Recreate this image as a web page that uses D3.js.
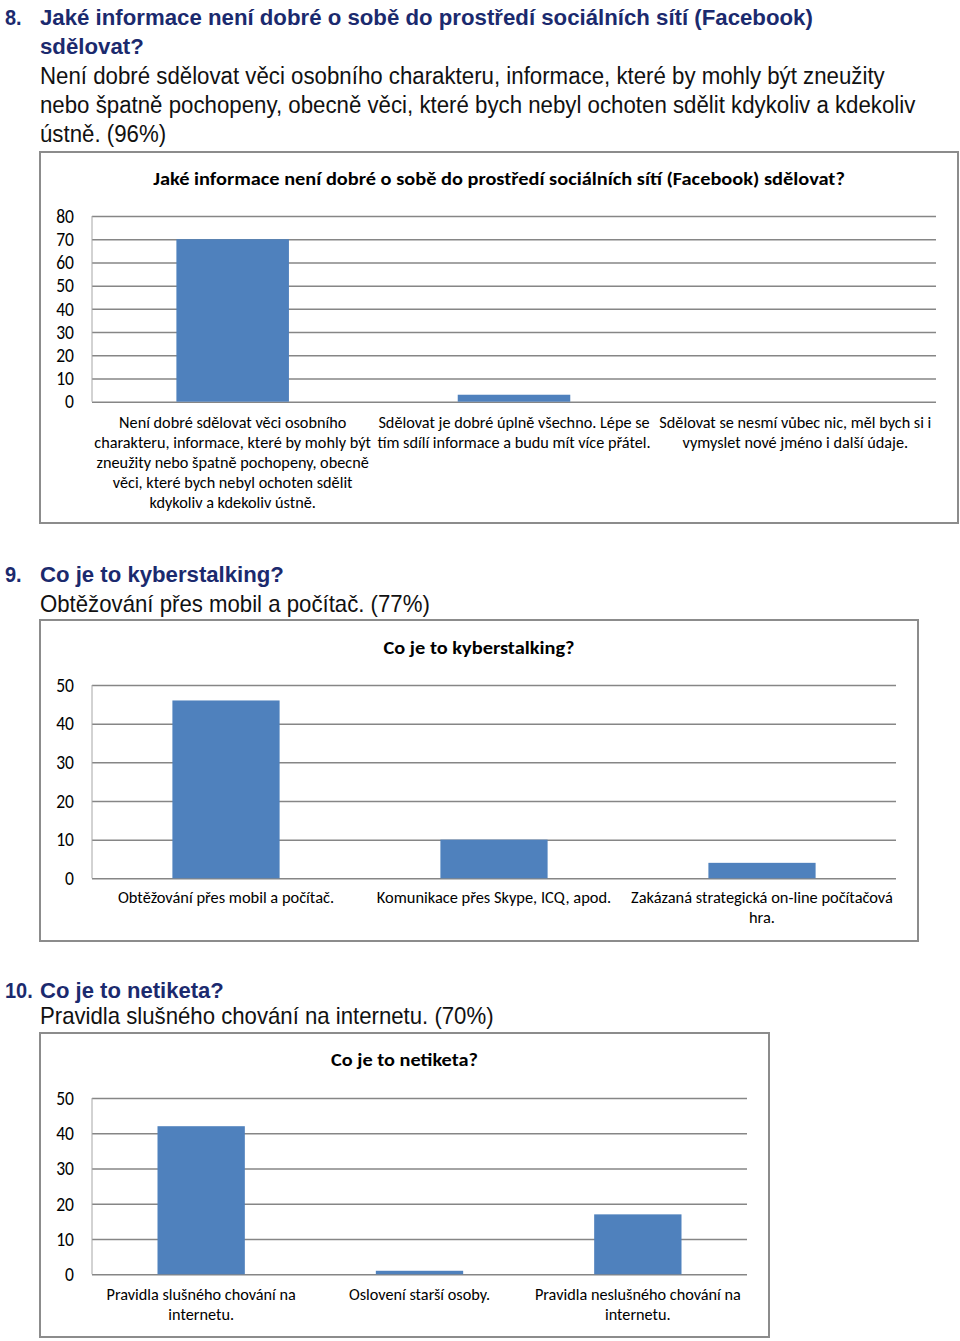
<!DOCTYPE html>
<html><head><meta charset="utf-8">
<script src="https://cdn.jsdelivr.net/npm/d3@7"></script>
<style>body{margin:0;background:#fff}svg{display:block}</style>
</head><body>
<svg id="c" width="960" height="1341"></svg>
<script>
// ---------- DATA ----------
const q8Number = "8.";
const q8Question = ["Jaké informace není dobré o sobě do prostředí sociálních sítí (Facebook)", "sdělovat?"];
const q8Answer = ["Není dobré sdělovat věci osobního charakteru, informace, které by mohly být zneužity",
  "nebo špatně pochopeny, obecně věci, které bych nebyl ochoten sdělit kdykoliv a kdekoliv",
  "ústně. (96%)"];
const chart1Title = "Jaké informace není dobré o sobě do prostředí sociálních sítí (Facebook) sdělovat?";
const chart1Categories = [
  "Není dobré sdělovat věci osobního\ncharakteru, informace, které by mohly být\nzneužity nebo špatně pochopeny, obecně\nvěci, které bych nebyl ochoten sdělit\nkdykoliv a kdekoliv ústně.",
  "Sdělovat je dobré úplně všechno. Lépe se\ntím sdílí informace a budu mít více přátel.",
  "Sdělovat se nesmí vůbec nic, měl bych si i\nvymyslet nové jméno i další údaje."];
const chart1Values = [70, 3, 0];
const chart1Ticks = [0, 10, 20, 30, 40, 50, 60, 70, 80];

const q9Number = "9.";
const q9Question = ["Co je to kyberstalking?"];
const q9Answer = ["Obtěžování přes mobil a počítač. (77%)"];
const chart2Title = "Co je to kyberstalking?";
const chart2Categories = ["Obtěžování přes mobil a počítač.", "Komunikace přes Skype, ICQ, apod.",
  "Zakázaná strategická on-line počítačová\nhra."];
const chart2Values = [46, 10, 4];
const chart2Ticks = [0, 10, 20, 30, 40, 50];

const q10Number = "10.";
const q10Question = ["Co je to netiketa?"];
const q10Answer = ["Pravidla slušného chování na internetu. (70%)"];
const chart3Title = "Co je to netiketa?";
const chart3Categories = ["Pravidla slušného chování na\ninternetu.", "Oslovení starší osoby.",
  "Pravidla neslušného chování na\ninternetu."];
const chart3Values = [42, 1, 17];
const chart3Ticks = [0, 10, 20, 30, 40, 50];

// ---------- RENDER ----------
const svg = d3.select("#c");
const NAVY = "#1b2a6e";
const ARIAL = "'Liberation Sans', Arial, sans-serif";
const CAL = "Carlito, Lato, 'Open Sans', sans-serif";

function fitText(parent, txt, x, y, opts) {
  const g = parent.append("g").attr("transform", `translate(${x},${y})`);
  const t = g.append("text").text(txt)
    .attr("font-family", opts.family).attr("font-size", opts.size)
    .attr("font-weight", opts.weight || "normal").attr("fill", opts.color || "#000")
    .attr("text-anchor", opts.anchor || "start");
  let sx = opts.scale || 1;
  if (opts.width) sx = opts.width / t.node().getComputedTextLength();
  g.attr("transform", `translate(${x},${y}) scale(${sx},1)`);
  return sx;
}

function heading(num, qLines, aLines, qBase, aBase, qWidth, aWidth) {
  fitText(svg, num, 5, qBase[0], {family: ARIAL, size: 21.5, weight: "bold", color: NAVY, scale: 0.93});
  let sxq = null;
  qLines.forEach((l, i) => {
    if (i === 0) sxq = fitText(svg, l, 40, qBase[i], {family: ARIAL, size: 21.5, weight: "bold", color: NAVY, width: qWidth});
    else fitText(svg, l, 40, qBase[i], {family: ARIAL, size: 21.5, weight: "bold", color: NAVY, scale: sxq});
  });
  let sxa = null;
  aLines.forEach((l, i) => {
    if (i === 0) sxa = fitText(svg, l, 40, aBase[i], {family: ARIAL, size: 23, color: "#111", width: aWidth});
    else fitText(svg, l, 40, aBase[i], {family: ARIAL, size: 23, color: "#111", scale: sxa});
  });
}

function barChart(cfg) {
  const g = svg.append("g");
  g.append("rect").attr("x", cfg.frame[0]).attr("y", cfg.frame[1])
    .attr("width", cfg.frame[2] - cfg.frame[0]).attr("height", cfg.frame[3] - cfg.frame[1])
    .attr("fill", "#fff").attr("stroke", "#8c8c8c").attr("stroke-width", 2);

  const x = d3.scaleBand().domain(cfg.categories).range([cfg.left, cfg.right])
    .paddingInner(0.6).paddingOuter(0.3);
  const y = d3.scaleLinear().domain([0, d3.max(cfg.ticks)]).range([cfg.bottom, cfg.top]);

  // gridlines
  const grid = g.append("g").attr("transform", `translate(${cfg.left},0)`)
    .call(d3.axisLeft(y).tickValues(cfg.ticks).tickSize(-(cfg.right - cfg.left)).tickFormat(""));
  grid.select(".domain").remove();
  grid.selectAll("line").attr("stroke", "#868686").attr("stroke-width", 1.5);

  // vertical axis line
  g.append("line").attr("x1", cfg.left).attr("x2", cfg.left)
    .attr("y1", y(d3.max(cfg.ticks))).attr("y2", y(0))
    .attr("stroke", "#a6a6a6").attr("stroke-width", 1);

  // tick labels
  const ax = g.append("g").attr("transform", `translate(${cfg.left},0)`)
    .call(d3.axisLeft(y).tickValues(cfg.ticks).tickSize(0).tickPadding(18).tickFormat(d3.format("d")));
  ax.select(".domain").remove();
  ax.selectAll("text").attr("font-family", CAL).attr("font-size", 19.5).attr("fill", "#000")
    .attr("transform", `scale(${cfg.tickScale},1)`).attr("x", -18 / cfg.tickScale);

  // bars
  g.selectAll("rect.bar").data(cfg.values).join("rect").attr("class", "bar")
    .attr("x", (d, i) => x(cfg.categories[i])).attr("width", x.bandwidth())
    .attr("y", d => y(d)).attr("height", d => y(0) - y(d))
    .attr("fill", "#4f81bd");

  // title
  fitText(g, cfg.title, (cfg.frame[0] + cfg.frame[2]) / 2, cfg.titleY,
    {family: CAL, size: 18.5, weight: "bold", anchor: "middle", width: cfg.titleWidth});

  // category labels
  const probe = g.append("text").attr("font-family", CAL).attr("font-size", cfg.labelSize)
    .text(cfg.refLine);
  const sx = cfg.refWidth / probe.node().getComputedTextLength();
  probe.remove();
  cfg.categories.forEach((c, i) => {
    const cx = x(c) + x.bandwidth() / 2;
    c.split("\n").forEach((line, j) => {
      fitText(g, line, cx, y(0) + cfg.labelOffset + j * 20,
        {family: CAL, size: cfg.labelSize, anchor: "middle", scale: sx, color: "#000"});
    });
  });
}

heading(q8Number, q8Question, q8Answer, [25, 54], [84, 113, 142], 773, 845);
barChart({frame: [40, 152, 958, 523], left: 92, right: 936, top: 216, bottom: 401.7,
  ticks: chart1Ticks, categories: chart1Categories, values: chart1Values,
  title: chart1Title, titleY: 185, titleWidth: 692, tickScale: 0.9,
  labelSize: 16, labelOffset: 26, refLine: "charakteru, informace, které by mohly být", refWidth: 277});

heading(q9Number, q9Question, q9Answer, [582], [612], 244, 390);
barChart({frame: [40, 620, 918, 941], left: 92, right: 896, top: 685, bottom: 878.3,
  ticks: chart2Ticks, categories: chart2Categories, values: chart2Values,
  title: chart2Title, titleY: 654, titleWidth: 191, tickScale: 0.9,
  labelSize: 16, labelOffset: 25, refLine: "Zakázaná strategická on-line počítačová", refWidth: 262});

heading(q10Number, q10Question, q10Answer, [998], [1024], 184, 454);
barChart({frame: [40, 1033, 769, 1337], left: 92, right: 747, top: 1098, bottom: 1274.3,
  ticks: chart3Ticks, categories: chart3Categories, values: chart3Values,
  title: chart3Title, titleY: 1066, titleWidth: 147, tickScale: 0.9,
  labelSize: 16, labelOffset: 26, refLine: "Pravidla neslušného chování na", refWidth: 206});
</script>
</body></html>
